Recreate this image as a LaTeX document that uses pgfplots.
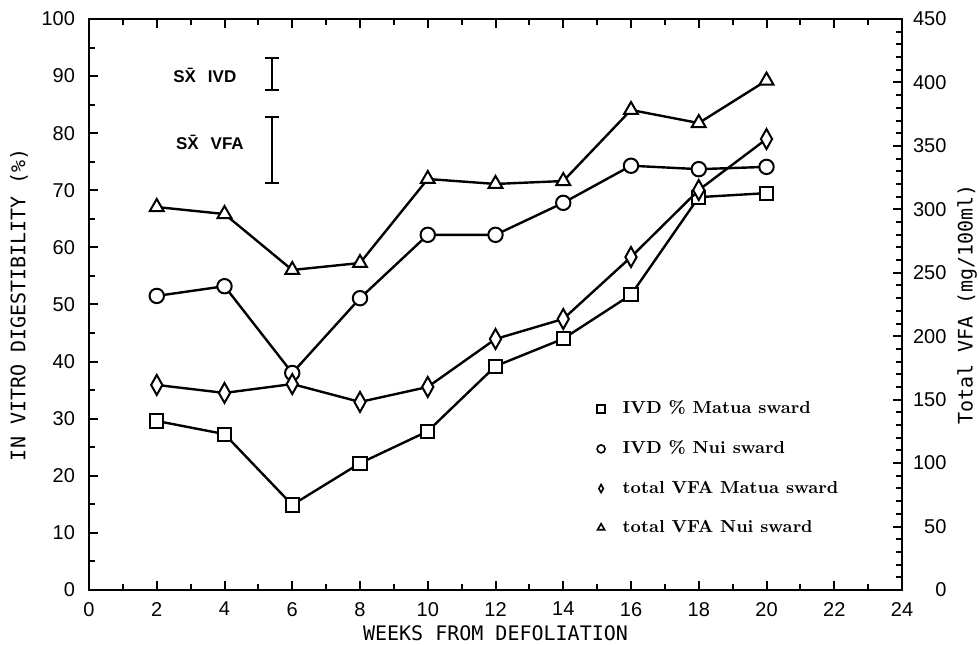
\documentclass[border=0pt]{standalone}
\usepackage{fontspec}
\usepackage{pgfplots}
\pgfplotsset{compat=1.18}
\newfontfamily\sansf{Liberation Sans}
\newfontfamily\monof{DejaVu Sans Mono}
\begin{document}
\begin{tikzpicture}
\pgfplotsset{
  common/.style={
    scale only axis, width=406.5pt, height=285.5pt,
    xmin=0, xmax=24,
    tick align=inside,
    major tick length=4.5pt, minor tick length=3pt,
    every tick/.style={black, line width=1pt},
    axis line style={line width=1.2pt},
    /pgf/number format/assume math mode=true,
    tick label style={font=\sansf\fontsize{10}{12}\selectfont},
    label style={font=\monof\fontsize{10}{12}\selectfont},
  }
}
\begin{axis}[common,
  ymin=0, ymax=100,
  xtick={0,2,...,24}, minor xtick={1,3,...,23},
  ytick={0,10,...,100}, minor ytick={5,15,...,95},
  ytick pos=left, xtick pos=both,
  xticklabel pos=lower,
  yticklabel style={xshift=-3.5pt},
  xticklabel style={yshift=-2.5pt},
  xlabel={WEEKS FROM DEFOLIATION},
  ylabel={IN VITRO DIGESTIBILITY (\%)},
  xlabel style={at={(rel axis cs:0.5,-0.0753)}, anchor=center},
  ylabel style={at={(rel axis cs:-0.0861,0.5)}, anchor=center},
]
\addplot[black, line width=1.2pt, mark=square*, mark size=3.3pt, mark options={fill=white, line width=1pt}]
coordinates {(2,29.6)(4,27.3)(6,14.9)(8,22.2)(10,27.8)(12,39.2)(14,44.0)(16,51.7)(18,68.8)(20,69.5)};
\addplot[black, line width=1.2pt, mark=*, mark size=3.6pt, mark options={fill=white, line width=1pt}]
coordinates {(2,51.5)(4,53.2)(6,38.0)(8,51.1)(10,62.2)(12,62.2)(14,67.8)(16,74.3)(18,73.7)(20,74.1)};
% SX bars
\addplot[black, line width=1.2pt, mark=none, forget plot,
  error bars/.cd, y dir=both, y explicit,
  error bar style={line width=1.2pt},
  error mark options={line width=1.2pt, mark size=3.5pt, rotate=90}]
coordinates {(5.4,90.4) +- (0,2.8)};
\addplot[black, line width=1.2pt, mark=none, forget plot,
  error bars/.cd, y dir=both, y explicit,
  error bar style={line width=1.2pt},
  error mark options={line width=1.2pt, mark size=3.5pt, rotate=90}]
coordinates {(5.4,77.05) +- (0,5.75)};
\node[font=\sansf\bfseries\fontsize{8.5}{10}\selectfont] at (axis cs:3.42,90.2) {S\={X}\hspace{0.7em}IVD};
\node[font=\sansf\bfseries\fontsize{8.5}{10}\selectfont] at (axis cs:3.57,78.4) {S\={X}\hspace{0.7em}VFA};
\coordinate (SW) at (rel axis cs:0,0);
\coordinate (NE) at (rel axis cs:1,1);
\end{axis}
\begin{axis}[common,
  ymin=0, ymax=450,
  axis x line=none,
  axis y line*=right,
  y axis line style={-},
  ytick={0,50,...,450}, minor ytick={10,20,...,440},
  yticklabel style={anchor=west, text width=17pt, align=right, xshift=1.7pt},
  ylabel={Total VFA (mg/100ml)},
  ylabel style={at={(rel axis cs:1.08,0.5)}, anchor=center},
  legend style={at={(0.615,0.346)}, anchor=north west, draw=none, fill=none,
    font=\bfseries\fontsize{8.7}{10}\selectfont, row sep=8pt,
    legend cell align=left},
  legend image code/.code={\draw[#1, mark size=2pt, line width=0.8pt] plot coordinates {(0.1cm,0cm)}; \path[draw=none] (0,0) -- (0.41cm,0);},
]
\addlegendimage{black, mark=square*, mark options={fill=white}}
\addlegendentry{IVD \% Matua sward}
\addlegendimage{black, mark=*, mark options={fill=white}}
\addlegendentry{IVD \% Nui sward}
\addlegendimage{black, mark=diamond*, mark options={fill=white, xscale=0.75}}
\addlegendentry{total VFA Matua sward}
\addlegendimage{black, mark=triangle*, mark options={fill=white}}
\addlegendentry{total VFA Nui sward}
\addplot[black, line width=1.2pt, mark=diamond*, mark size=5pt, forget plot, mark options={fill=white, line width=1pt, xscale=0.75}]
coordinates {(2,161.6)(4,155.3)(6,162.3)(8,148.2)(10,160.0)(12,197.8)(14,213.6)(16,262.4)(18,315.2)(20,355.4)};
\addplot[black, line width=1.2pt, mark=triangle*, mark size=4pt, forget plot, mark options={fill=white, line width=1pt}]
coordinates {(2,301.8)(4,296.3)(6,252.2)(8,257.7)(10,323.9)(12,320.0)(14,322.3)(16,378.3)(18,368.0)(20,401.5)};
\end{axis}
\pgfresetboundingbox
\path ([xshift=-44.5pt, yshift=-27.5pt]SW) rectangle ([xshift=38.5pt, yshift=9.5pt]NE);
\end{tikzpicture}
\end{document}
